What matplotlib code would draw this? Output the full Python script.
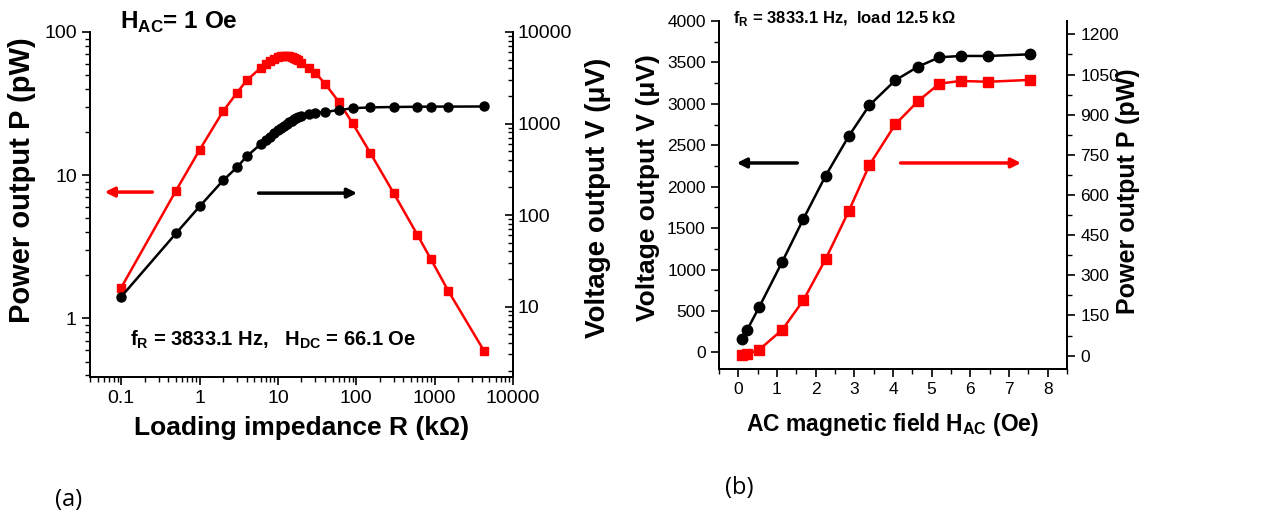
import numpy as np
import matplotlib
matplotlib.use('Agg')
import matplotlib.pyplot as plt
from matplotlib.ticker import MultipleLocator, FixedLocator

plt.rcParams['font.family'] = ['Liberation Sans', 'DejaVu Sans']
plt.rcParams['mathtext.fontset'] = 'custom'
plt.rcParams['mathtext.rm'] = 'Liberation Sans'
plt.rcParams['mathtext.bf'] = 'Liberation Sans:bold'

# (a) power / voltage vs loading impedance, H_AC = 1 Oe
R_kohm = [0.1, 0.5, 1, 2, 3, 4, 6, 7, 8, 9, 10, 11, 12, 13, 14, 15, 16, 17, 18,
          20, 25, 30, 40, 60, 90, 150, 300, 600, 900, 1500, 4300]
P_a = [1.64, 7.8, 15, 28, 37.6, 46, 56, 60, 63, 65, 66.5, 67.5, 68, 68, 67.5, 67,
       66, 65, 63.5, 61, 56, 52, 43.5, 32.5, 23, 14.4, 7.5, 3.85, 2.58, 1.55, 0.59]
V_a = [12.8, 63, 124, 239, 332, 438, 593, 655, 715, 780, 845, 900, 950, 995, 1035,
       1075, 1110, 1140, 1170, 1210, 1265, 1300, 1340, 1400, 1470, 1500, 1515,
       1525, 1530, 1530, 1535]

# (b) voltage / power vs AC field, load 12.5 kOhm
H_ac = [0.10, 0.23, 0.54, 1.14, 1.68, 2.26, 2.86, 3.39, 4.06, 4.65, 5.20, 5.75, 6.46, 7.55]
V_b = [161, 273, 547, 1097, 1608, 2134, 2613, 2983, 3284, 3449, 3562, 3578, 3578, 3598]
P_b = [1, 5, 22, 97, 206, 361, 541, 712, 864, 951, 1016, 1026, 1023, 1030]

RED = '#ff0000'

fig = plt.figure(figsize=(12.66, 5.16), dpi=100)


def ylab(ax, text, x, y, size):
    ax.set_ylabel(text, fontsize=size, fontweight='bold')
    ax.yaxis.label.set_va('center')
    ax.yaxis.set_label_coords(x, y)


def xlab(ax, text, x, y, size):
    ax.set_xlabel(text, fontsize=size, fontweight='bold')
    ax.xaxis.label.set_va('center')
    ax.xaxis.set_label_coords(x, y)


# ---------------- panel (a)
ax1 = fig.add_axes([0.0711, 0.2694, 0.3341, 0.6686])
ax2 = ax1.twinx()
ax1.plot(R_kohm, P_a, '-s', color=RED, ms=5.8, lw=1.8, zorder=3)
ax2.plot(R_kohm, V_a, '-o', color='black', ms=6.5, lw=1.8, zorder=3)
ax1.set_xscale('log')
ax1.set_yscale('log')
ax2.set_yscale('log')
ax1.set_xlim(0.04, 10000)
ax1.set_ylim(0.39, 100)
ax2.set_ylim(1.7, 10000)
ax1.set_xticks([0.1, 1, 10, 100, 1000, 10000])
ax1.set_xticklabels(['0.1', '1', '10', '100', '1000', '10000'])
ax1.set_yticks([1, 10, 100])
ax1.set_yticklabels(['1', '10', '100'])
ax2.set_yticks([10, 100, 1000, 10000])
ax2.set_yticklabels(['10', '100', '1000', '10000'])
for a in (ax1, ax2):
    a.spines['top'].set_visible(False)
    for s in a.spines.values():
        s.set_linewidth(1.3)
ax1.tick_params(which='major', direction='out', length=6, width=1.2, labelsize=14)
ax1.tick_params(which='minor', direction='out', length=3.5, width=1.0)
ax2.tick_params(which='major', direction='in', length=6, width=1.2, labelsize=14)
ax2.tick_params(which='minor', direction='in', length=3.5, width=1.0)
xlab(ax1, 'Loading impedance R (kΩ)', 0.501, -0.148, 19)
ylab(ax1, 'Power output P (pW)', -0.161, 0.571, 21)
ylab(ax2, 'Voltage output V (μV)', 1.201, 0.52, 20)

ax1.annotate('', xy=(0.028, 0.536), xytext=(0.154, 0.536), xycoords='axes fraction',
             arrowprops=dict(arrowstyle='-|>', color=RED, lw=2.5, mutation_scale=14))
ax1.annotate('', xy=(0.638, 0.533), xytext=(0.392, 0.533), xycoords='axes fraction',
             arrowprops=dict(arrowstyle='-|>', color='black', lw=2.5, mutation_scale=14))
ax1.text(0.095, 0.107, r'f$_\mathbf{R}$ = 3833.1 Hz,   H$_\mathbf{DC}$ = 66.1 Oe',
         transform=ax1.transAxes, fontsize=14.5, fontweight='bold', va='center')
fig.text(120 / 1266, 1 - 22 / 516, r'H$_\mathbf{AC}$= 1 Oe', fontsize=17.5,
         fontweight='bold', va='center')

# ---------------- panel (b)
bx1 = fig.add_axes([0.5679, 0.2849, 0.2749, 0.6744])
bx2 = bx1.twinx()
bx1.plot(H_ac, V_b, '-o', color='black', ms=7.5, lw=1.8, zorder=3)
bx2.plot(H_ac, P_b, '-s', color=RED, ms=7, lw=1.8, zorder=3)
bx1.set_xlim(-0.5, 8.5)
bx1.set_ylim(-200, 4000)
bx2.set_ylim(-50, 1250)
bx1.xaxis.set_major_locator(MultipleLocator(1))
bx1.xaxis.set_minor_locator(MultipleLocator(0.5))
bx1.yaxis.set_major_locator(MultipleLocator(500))
bx1.yaxis.set_minor_locator(MultipleLocator(250))
bx2.yaxis.set_major_locator(FixedLocator([0, 150, 300, 450, 600, 750, 900, 1050, 1200]))
bx2.yaxis.set_minor_locator(FixedLocator(np.arange(-75, 1250, 75)))
for a in (bx1, bx2):
    a.spines['top'].set_visible(False)
    for s in a.spines.values():
        s.set_linewidth(1.3)
    a.tick_params(which='major', direction='out', length=6, width=1.2, labelsize=12.5)
    a.tick_params(which='minor', direction='out', length=3.5, width=1.0)
xlab(bx1, r'AC magnetic field H$_\mathbf{AC}$ (Oe)', 0.5, -0.16, 16.5)
ylab(bx1, 'Voltage output V (μV)', -0.204, 0.52, 19)
ylab(bx2, 'Power output P (pW)', 1.175, 0.51, 18)

bx1.annotate('', xy=(0.043, 0.592), xytext=(0.233, 0.592), xycoords='axes fraction',
             arrowprops=dict(arrowstyle='-|>', color='black', lw=2.5, mutation_scale=14))
bx1.annotate('', xy=(0.876, 0.592), xytext=(0.514, 0.592), xycoords='axes fraction',
             arrowprops=dict(arrowstyle='-|>', color=RED, lw=2.5, mutation_scale=14))
fig.text(733 / 1266, 1 - 19 / 516, r'f$_\mathbf{R}$ = 3833.1 Hz,  load 12.5 kΩ',
         fontsize=12, fontweight='bold', va='center')

# captions
fig.text(55 / 1266, 1 - 500 / 516, '(a)', fontsize=17, family=['Open Sans', 'DejaVu Sans'],
         va='center')
fig.text(725 / 1266, 1 - 488 / 516, '(b)', fontsize=17, family=['Open Sans', 'DejaVu Sans'],
         va='center')

fig.savefig('out.png', dpi=100)
